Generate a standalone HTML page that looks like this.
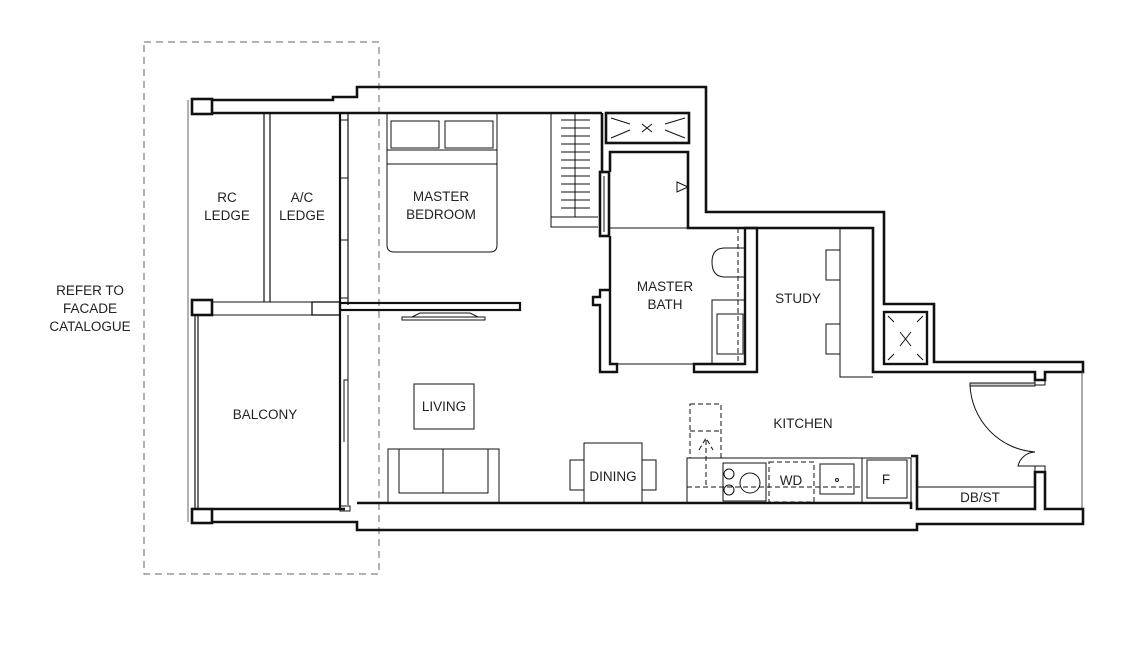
<!DOCTYPE html>
<html><head><meta charset="utf-8"><style>
html,body{margin:0;padding:0;background:#fff}
svg{display:block}
text{font-family:"Liberation Sans",sans-serif;font-size:13.5px;fill:#222;text-anchor:middle}
</style></head><body>
<svg width="1146" height="654" viewBox="0 0 1146 654" xmlns="http://www.w3.org/2000/svg">
<g fill="none" stroke="#111">
<!-- dashed facade boundary -->
<rect x="144" y="42" width="235" height="532" stroke="#666" stroke-width="1" stroke-dasharray="7,5"/>
<!-- thin left line -->
<line x1="188" y1="100" x2="188" y2="522" stroke="#666" stroke-width="1"/>

<!-- top wall -->
<path d="M212,100 H333 V97 H357 V87 H706 V212 H884 V304 H934 V362 H1083 V372 H1045 V380 H1035 V372 H884 V372" stroke-width="2.6"/>
<path d="M212,113 H602" stroke-width="2.6"/>
<line x1="1082" y1="372" x2="1082" y2="510" stroke="#555" stroke-width="1"/>
<!-- bottom wall -->
<path d="M212,509 H345" stroke-width="2.6"/>
<path d="M212,522 H357 V530 H917 V524 H1083 V509 H1045 V472 H1035 V509 H917 V456 H911" stroke-width="2.6"/>
<path d="M357,503 H911 V509" stroke-width="2.6"/>
<line x1="917" y1="487" x2="1035" y2="487" stroke-width="1"/>
<!-- door -->
<rect x="970" y="383" width="65" height="3" stroke-width="1" fill="#ccc"/>
<path d="M970,385 A70,70 0 0 0 1035,452" stroke-width="1"/>
<path d="M1035,452 A18,18 0 0 0 1018,466 H1035" stroke-width="1"/>
<rect x="1035" y="466" width="10" height="6" stroke-width="1"/>
<rect x="1035" y="380" width="10" height="5" stroke-width="1"/>

<!-- piers -->
<rect x="192" y="99" width="20" height="15" stroke-width="2.6"/>
<rect x="192" y="300" width="20" height="15" stroke-width="2.6"/>
<rect x="192" y="509" width="20" height="14" stroke-width="2.6"/>
<!-- ledge lines -->
<line x1="212" y1="302" x2="312" y2="302" stroke-width="1"/>
<line x1="212" y1="315" x2="312" y2="315" stroke-width="1"/>
<rect x="312" y="302" width="28" height="13" stroke-width="1.3"/>
<line x1="264" y1="113" x2="264" y2="302" stroke-width="1.2"/>
<line x1="270" y1="113" x2="270" y2="302" stroke-width="1.2"/>
<line x1="195" y1="315" x2="195" y2="509" stroke-width="1.2"/>
<line x1="198" y1="315" x2="198" y2="509" stroke-width="1.2"/>
<!-- facade window wall -->
<line x1="340" y1="113" x2="340" y2="510" stroke-width="2.2"/>
<line x1="348" y1="113" x2="348" y2="305" stroke-width="1.2"/>
<line x1="340" y1="120" x2="348" y2="120" stroke-width="1"/>
<line x1="340" y1="178" x2="348" y2="178" stroke-width="1"/>
<line x1="340" y1="240" x2="348" y2="240" stroke-width="1"/>
<line x1="340" y1="298" x2="348" y2="298" stroke-width="1"/>
<line x1="348" y1="315" x2="348" y2="505" stroke-width="1"/>
<path d="M348,380 H344 V442" stroke-width="1"/>
<rect x="340" y="506" width="10" height="5" stroke-width="1"/>
<!-- partition -->
<rect x="340" y="303" width="180" height="7" stroke-width="2.2"/>
<!-- tv -->
<path d="M402,320 H485 V317 H402 Z M412,317 L420,313 H470 L478,317" stroke-width="1"/>

<!-- bed -->
<path d="M387,113 V245 Q387,252 394,252 H490 Q497,252 497,245 V113" stroke-width="1"/>
<line x1="387" y1="150" x2="497" y2="150" stroke-width="1"/>
<line x1="387" y1="164" x2="497" y2="164" stroke-width="1"/>
<rect x="391" y="121" width="48" height="27" stroke-width="1"/>
<rect x="445" y="121" width="48" height="27" stroke-width="1"/>
<!-- wardrobe -->
<path d="M551,113 V227 H598" stroke-width="1"/>
<line x1="551" y1="217" x2="598" y2="217" stroke-width="1"/>
<line x1="575" y1="113" x2="575" y2="217" stroke-width="1"/>
<g stroke-width="1">
<line x1="561" y1="120" x2="590" y2="120"/><line x1="561" y1="128" x2="590" y2="128"/><line x1="561" y1="136" x2="590" y2="136"/><line x1="561" y1="144" x2="590" y2="144"/><line x1="561" y1="152" x2="590" y2="152"/><line x1="561" y1="160" x2="590" y2="160"/><line x1="561" y1="168" x2="590" y2="168"/><line x1="561" y1="176" x2="590" y2="176"/><line x1="561" y1="184" x2="590" y2="184"/><line x1="561" y1="192" x2="590" y2="192"/><line x1="561" y1="200" x2="590" y2="200"/><line x1="561" y1="208" x2="590" y2="208"/>
</g>
<!-- shaft top -->
<rect x="606" y="113" width="83" height="30" stroke-width="2.6"/>
<path d="M611,138 L630,130 M611,118 L630,124 M685,118 L665,124 M685,138 L665,130 M642,124 L652,132 M652,124 L642,132" stroke-width="1"/>
<!-- bathroom walls -->
<path d="M602,113 V172" stroke-width="2.6"/>
<rect x="600" y="172" width="9" height="64" stroke-width="2.6"/>
<line x1="604" y1="176" x2="604" y2="232" stroke-width="1"/>
<path d="M610,172 V152 H688 V228 H873 V372 H884" stroke-width="2.6"/>
<path d="M610,228 H740" stroke-width="1"/>
<path d="M677,182 L688,187 L677,192 Z" stroke-width="1"/>
<path d="M610,236 V364 H617 V372 H600 V305 H593 V297 H600 V290 H610" stroke-width="2.4"/>
<path d="M617,364 H694" stroke-width="1"/>
<path d="M694,372 V364 H745 V228 H757 V372 Z" stroke-width="2.4"/>
<line x1="738" y1="228" x2="738" y2="364" stroke-width="1" stroke-dasharray="5,3"/>
<path d="M745,248 H725 Q712,248 712,262 Q712,277 725,277 H745" stroke-width="1"/>
<path d="M745,300 H712 V364" stroke-width="1"/>
<rect x="717" y="314" width="26" height="40" stroke-width="1"/>
<!-- study -->
<path d="M840,228 V377 H873" stroke-width="1"/>
<rect x="826" y="250" width="14" height="30" stroke-width="1"/>
<rect x="826" y="324" width="14" height="30" stroke-width="1"/>
<rect x="884" y="312" width="43" height="52" stroke-width="2.4"/>
<path d="M888,316 L894,322 M923,316 L917,322 M888,360 L894,354 M923,360 L917,354 M900,332 L911,346 M911,332 L900,346" stroke-width="1"/>

<!-- living furniture -->
<rect x="414" y="384" width="60" height="45" stroke-width="1"/>
<rect x="388" y="449" width="111" height="54" stroke-width="1"/>
<rect x="399" y="449" width="89" height="44" stroke-width="1"/>
<line x1="443" y1="449" x2="443" y2="493" stroke-width="1"/>
<!-- dining -->
<rect x="584" y="443" width="58" height="60" stroke-width="1"/>
<rect x="570" y="460" width="14" height="30" stroke-width="1"/>
<rect x="642" y="460" width="14" height="30" stroke-width="1"/>
<!-- kitchen counter -->
<rect x="687" y="458" width="224" height="45" stroke-width="1"/>
<line x1="862" y1="458" x2="862" y2="503" stroke-width="1"/>
<rect x="867" y="460" width="40" height="38" stroke-width="1"/>
<rect x="723" y="463" width="43" height="38" stroke-width="1"/>
<circle cx="729" cy="474" r="5" stroke-width="1"/>
<circle cx="729" cy="490" r="5" stroke-width="1"/>
<circle cx="750" cy="483" r="10" stroke-width="1"/>
<rect x="820" y="464" width="34" height="30" stroke-width="1"/>
<circle cx="837" cy="480" r="1.5" stroke-width="1"/>
<g stroke-width="1" stroke-dasharray="5,3">
<rect x="769" y="462" width="45" height="40"/>
<line x1="687" y1="487" x2="862" y2="487"/>
<rect x="690" y="404" width="31" height="54"/>
<line x1="690" y1="431" x2="721" y2="431"/>
<line x1="706" y1="440" x2="706" y2="487"/>
<path d="M699,450 L706,438 L713,450"/>
</g>
</g>
<text x="227" y="202">RC</text><text x="227" y="220">LEDGE</text>
<text x="302" y="202">A/C</text><text x="302" y="220">LEDGE</text>
<text x="441" y="201">MASTER</text><text x="441" y="219">BEDROOM</text>
<text x="90" y="295">REFER TO</text><text x="90" y="313">FACADE</text><text x="90" y="331">CATALOGUE</text>
<text x="665" y="291">MASTER</text><text x="665" y="309">BATH</text>
<text x="798" y="303">STUDY</text>
<text x="265" y="419">BALCONY</text>
<text x="444" y="411">LIVING</text>
<text x="803" y="428">KITCHEN</text>
<text x="613" y="481">DINING</text>
<text x="791" y="485">WD</text>
<text x="886" y="484">F</text>
<text x="980" y="502">DB/ST</text>
</svg>
</body></html>
